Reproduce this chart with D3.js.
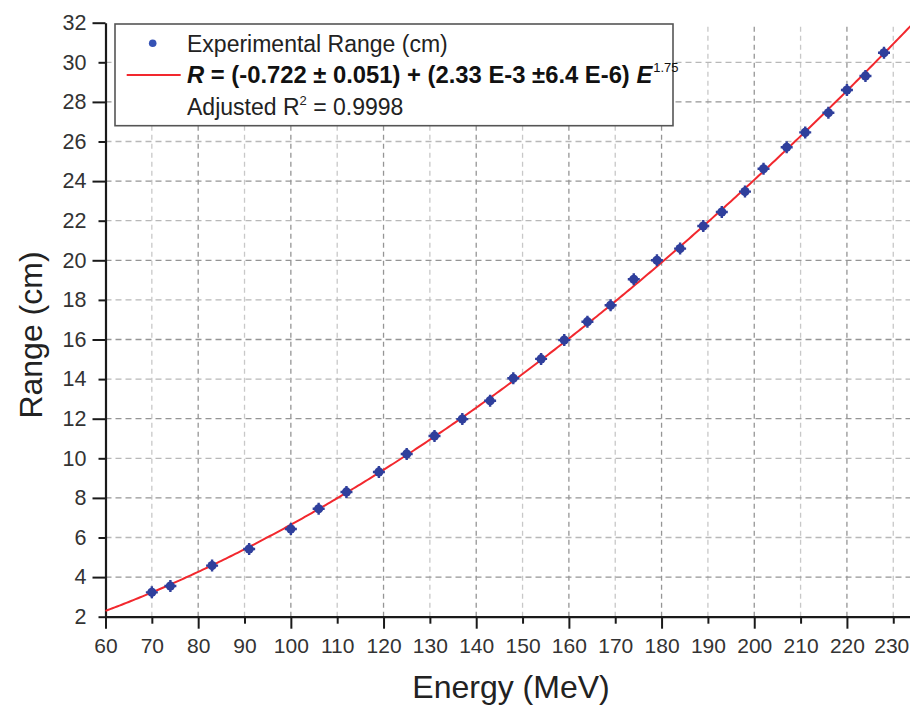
<!DOCTYPE html>
<html>
<head>
<meta charset="utf-8">
<script src="https://cdn.jsdelivr.net/npm/d3@7"></script>
<style>
  html, body { margin: 0; padding: 0; background: #fff; }
  svg { display: block; font-family: "Liberation Sans", Arial, sans-serif; }
</style>
</head>
<body>
<svg id="chart" width="910" height="706"></svg>
<script>
// Measured proton range versus beam energy
const energies = [70, 74, 83, 91, 100, 106, 112, 119, 125, 131, 137, 143, 148, 154, 159,
                  164, 169, 174, 179, 184, 189, 193, 198, 202, 207, 211, 216, 220, 224, 228];
const ranges = [3.23, 3.55, 4.58, 5.42, 6.43, 7.45, 8.30, 9.31, 10.22, 11.13, 11.98, 12.91, 14.04, 15.02, 15.97,
                16.90, 17.73, 19.04, 20.00, 20.59, 21.73, 22.44, 23.47, 24.62, 25.71, 26.46, 27.45, 28.60, 29.31, 30.48];

// Fit coefficients: R = a + b * E^p
const fitA = -0.722;
const fitB = 2.33e-3;
const fitP = 1.75;

const xTicks = [60, 70, 80, 90, 100, 110, 120, 130, 140, 150, 160, 170, 180, 190, 200, 210, 220, 230];
const yTicks = [2, 4, 6, 8, 10, 12, 14, 16, 18, 20, 22, 24, 26, 28, 30, 32];

const W = 910;
const svg = d3.select("#chart");

const x = d3.scaleLinear().domain([60, 240]).range([105.5, 939.6]);
const y = d3.scaleLinear().domain([2, 32]).range([616.7, 22.7]);

// grid
const grid = svg.append("g");
grid.selectAll("line.v").data(xTicks.filter(d => d > 60)).join("line")
  .attr("x1", d => x(d)).attr("x2", d => x(d))
  .attr("y1", y(2)).attr("y2", y(32))
  .attr("stroke", d => d % 20 === 0 ? "#959595" : "#c8c8c8")
  .attr("stroke-width", 1.3)
  .attr("stroke-dasharray", "5,4");
grid.selectAll("line.h").data(yTicks.filter(d => d > 2 && d < 32)).join("line")
  .attr("x1", x(60)).attr("x2", W)
  .attr("y1", d => y(d)).attr("y2", d => y(d))
  .attr("stroke", d => d % 4 === 0 ? "#959595" : "#b8b8b8")
  .attr("stroke-width", 1.3)
  .attr("stroke-dasharray", "6,4");

// axes
const xAxis = svg.append("g")
  .attr("transform", `translate(0,${y(2)})`)
  .call(d3.axisBottom(x).tickValues(xTicks).tickSizeOuter(0));
xAxis.selectAll(".tick line")
  .attr("y2", d => d % 20 === 0 ? 12 : 7)
  .attr("stroke", "#1a1a1a").attr("stroke-width", 2);
xAxis.selectAll(".tick text")
  .attr("y", 21).attr("dy", "0.71em")
  .attr("font-size", 21).attr("fill", "#333");
// keep the last label inside the frame edge
xAxis.selectAll(".tick text").filter(d => d === 230).attr("x", -2);
xAxis.select(".domain").attr("stroke", "#1a1a1a").attr("stroke-width", 2.2);

const yAxis = svg.append("g")
  .attr("transform", `translate(${x(60)},0)`)
  .call(d3.axisLeft(y).tickValues(yTicks).tickSizeOuter(0));
yAxis.selectAll(".tick line")
  .attr("x2", d => d % 4 === 0 ? -13 : -7)
  .attr("stroke", "#1a1a1a").attr("stroke-width", 2);
yAxis.selectAll(".tick text")
  .attr("x", -19)
  .attr("font-size", 21.5).attr("fill", "#333");
yAxis.select(".domain").attr("stroke", "#1a1a1a").attr("stroke-width", 2.2);
svg.selectAll(".tick text").attr("font-family", "'Liberation Sans', Arial, sans-serif");

// fitted curve
const curveE = d3.range(60, 240.5, 0.5);
const line = d3.line().x(d => x(d)).y(d => y(fitA + fitB * Math.pow(d, fitP)));
svg.append("path")
  .datum(curveE)
  .attr("d", line)
  .attr("fill", "none")
  .attr("stroke", "#f2282e")
  .attr("stroke-width", 2);

// experimental points
const pts = svg.append("g").selectAll("g").data(energies.map((e, i) => [e, ranges[i]])).join("g")
  .attr("transform", d => `translate(${x(d[0])},${y(d[1])})`);
pts.append("path")
  .attr("d", "M-6,0H6M0,-6V6")
  .attr("stroke", "#2f3f9c").attr("stroke-width", 2.4);
pts.append("circle")
  .attr("r", 4.6)
  .attr("fill", "#2f3f9c");

// legend
const lg = svg.append("g");
lg.append("rect")
  .attr("x", 115).attr("y", 24).attr("width", 558).attr("height", 101.7)
  .attr("fill", "#fff").attr("stroke", "#555").attr("stroke-width", 1.6);
lg.append("circle").attr("cx", 152.7).attr("cy", 43.3).attr("r", 3.8).attr("fill", "#3552b5");
lg.append("line").attr("x1", 126.7).attr("x2", 180.7).attr("y1", 75).attr("y2", 75)
  .attr("stroke", "#f2282e").attr("stroke-width", 2);

lg.append("text").attr("x", 187).attr("y", 52.3)
  .attr("font-size", 23).attr("fill", "#222")
  .text("Experimental Range (cm)");

const eq = lg.append("text").attr("x", 187).attr("y", 83)
  .attr("font-size", 23.8).attr("font-weight", "bold").attr("fill", "#111");
eq.append("tspan").attr("font-style", "italic").text("R");
eq.append("tspan").text(" = (-0.722 \u00b1 0.051) + (2.33 E-3 \u00b16.4 E-6) ");
eq.append("tspan").attr("font-style", "italic").text("E");
eq.append("tspan").attr("font-size", 13).attr("font-weight", "normal").attr("dx", 1).attr("dy", -11).text("1.75");

const r2 = lg.append("text").attr("x", 187).attr("y", 114.5)
  .attr("font-size", 23).attr("fill", "#222");
r2.append("tspan").text("Adjusted R");
r2.append("tspan").attr("font-size", 13).attr("dy", -10).text("2");
r2.append("tspan").attr("dy", 10).text(" = 0.9998");

// axis titles
svg.append("text")
  .attr("x", 511).attr("y", 698)
  .attr("text-anchor", "middle")
  .attr("font-size", 32).attr("fill", "#222")
  .text("Energy (MeV)");
svg.append("text")
  .attr("transform", "translate(42,335) rotate(-90)")
  .attr("text-anchor", "middle")
  .attr("font-size", 32).attr("fill", "#222")
  .text("Range (cm)");
</script>
</body>
</html>
